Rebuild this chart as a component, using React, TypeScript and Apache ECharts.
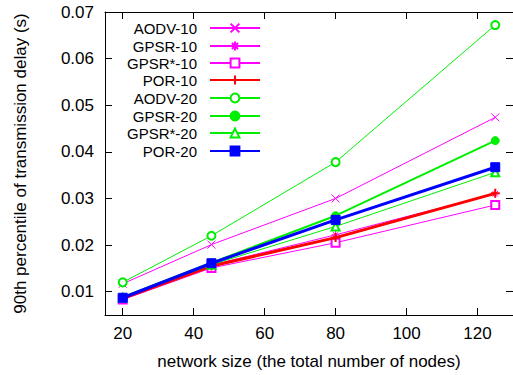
import React, { useEffect, useRef } from "react";
import * as echarts from "echarts";

const xValues = [20, 45, 80, 125];
const seriesNames = ["AODV-10", "GPSR-10", "GPSR*-10", "POR-10", "AODV-20", "GPSR-20", "GPSR*-20", "POR-20"];
const aodv10 = [0.0117, 0.0201, 0.03, 0.0474];
const gpsr10 = [0.0086, 0.0157, 0.0222, 0.031];
const gpsrStar10 = [0.0083, 0.0151, 0.0205, 0.0286];
const por10 = [0.0086, 0.0155, 0.0216, 0.0311];
const aodv20 = [0.012, 0.022, 0.0378, 0.0672];
const gpsr20 = [0.0088, 0.0162, 0.0263, 0.0424];
const gpsrStar20 = [0.0087, 0.0158, 0.024, 0.0356];
const por20 = [0.0087, 0.0161, 0.0254, 0.0367];
const xTicks = [20, 40, 60, 80, 100, 120];
const yTicks = [0.01, 0.02, 0.03, 0.04, 0.05, 0.06, 0.07];

const MAG = "#ff00ff";
const RED = "#ff0000";
const GRN = "#00ee00";
const BLU = "#0000ff";
const FONT = "Liberation Sans, Arial, Helvetica, sans-serif";
const FS = 17;
const LEGEND_FS = 15;

const CROSS = "path://M0,0L10,10M0,10L10,0";
const STAR = "path://M0,5L10,5M5,0L5,10M1.5,1.5L8.5,8.5M1.5,8.5L8.5,1.5";
const PLUS = "path://M0,5L10,5M5,0L5,10";

export default function App() {
  const ref = useRef<HTMLDivElement>(null);
  useEffect(() => {
    if (!ref.current) return;
    const chart = echarts.init(ref.current, null, { renderer: "svg" });
    const values = [aodv10, gpsr10, gpsrStar10, por10, aodv20, gpsr20, gpsrStar20, por20];
    const styles = [
      { c: MAG, w: 1, s: CROSS, size: 8 },
      { c: MAG, w: 1, s: STAR, size: 8 },
      { c: MAG, w: 1, s: "emptyRect", size: 8 },
      { c: RED, w: 3, s: PLUS, size: 9 },
      { c: GRN, w: 1, s: "emptyCircle", size: 8 },
      { c: GRN, w: 2, s: "circle", size: 8 },
      { c: GRN, w: 1, s: "emptyTriangle", size: 8 },
      { c: BLU, w: 3, s: "rect", size: 9 },
    ];
    const series = seriesNames.map((name, i) => ({
      name,
      type: "line",
      data: xValues.map((x, j) => [x, values[i][j]]),
      symbol: styles[i].s,
      symbolSize: styles[i].size,
      showAllSymbol: true,
      lineStyle: { color: styles[i].c, width: styles[i].w },
      itemStyle: {
        color: styles[i].c,
        borderColor: styles[i].c,
        borderWidth: styles[i].s.startsWith("path") ? (styles[i].w > 1 ? 2 : 1) : 1,
      },
      emphasis: { disabled: true },
      z: 2 + i,
    }));
    const rowCenters = [28, 46, 63, 80, 98, 116, 133, 151];
    const legends = seriesNames.map((name, i) => ({
      data: [name],
      orient: "vertical",
      right: 513 - 261,
      top: rowCenters[i] - 8,
      align: "right",
      itemWidth: 50,
      itemHeight: 11,
      padding: 0,
      selectedMode: false,
      textStyle: { fontSize: LEGEND_FS, lineHeight: 16, color: "#000", fontFamily: FONT, padding: [0, 8, 0, 0] },
    }));
    const axisCommon = {
      axisLine: { lineStyle: { color: "#000", width: 1 } },
      splitLine: { show: false },
    };
    chart.setOption({
      animation: false,
      backgroundColor: "#fff",
      textStyle: { fontFamily: FONT },
      grid: { left: 105, top: 12, width: 412, height: 304, containLabel: false },
      legend: legends,
      xAxis: [
        {
          ...axisCommon,
          type: "value",
          min: 15,
          max: 130,
          position: "bottom",
          axisTick: { inside: true, length: 7, customValues: xTicks, lineStyle: { color: "#000" } },
          axisLabel: { customValues: xTicks, margin: 10, fontSize: FS, color: "#000", fontFamily: FONT },
          name: "network size (the total number of nodes)",
          nameLocation: "middle",
          nameGap: 38,
          nameTextStyle: { fontSize: FS, color: "#000", fontFamily: FONT },
        },
        {
          ...axisCommon,
          type: "value",
          min: 15,
          max: 130,
          position: "top",
          axisTick: { inside: true, length: 7, customValues: xTicks, lineStyle: { color: "#000" } },
          axisLabel: { show: false },
        },
      ],
      yAxis: [
        {
          ...axisCommon,
          type: "value",
          min: 0.005,
          max: 0.07,
          position: "left",
          axisTick: { inside: true, length: 7, customValues: yTicks, lineStyle: { color: "#000" } },
          axisLabel: {
            customValues: yTicks,
            margin: 11,
            fontSize: FS,
            color: "#000",
            fontFamily: FONT,
            formatter: (v: number) => v.toFixed(2),
          },
          name: "90th percentile of transmission delay (s)",
          nameLocation: "middle",
          nameGap: 76,
          nameTextStyle: { fontSize: FS, color: "#000", fontFamily: FONT },
        },
        {
          ...axisCommon,
          type: "value",
          min: 0.005,
          max: 0.07,
          position: "right",
          axisTick: { inside: true, length: 7, customValues: yTicks, lineStyle: { color: "#000" } },
          axisLabel: { show: false },
        },
      ],
      series,
    });
    return () => chart.dispose();
  }, []);
  return (
    <div
      ref={ref}
      style={{ position: "absolute", left: 0, top: 0, width: 513, height: 375, background: "#fff" }}
    />
  );
}
